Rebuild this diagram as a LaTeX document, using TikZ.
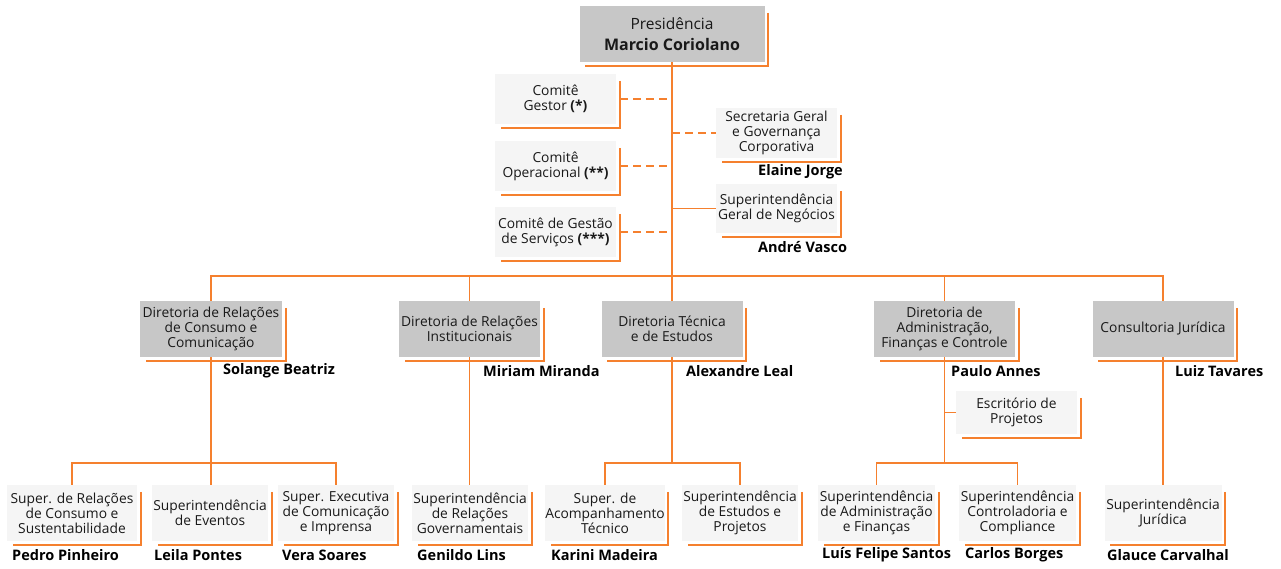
\documentclass[tikz,border=0pt]{standalone}
\usepackage{fontspec}
\setmainfont{Open Sans}
\usepackage{tikz}
\definecolor{fvyqsv}{rgb}{0.96,0.5,0.18}
\definecolor{cwcwcw}{rgb}{0.78,0.78,0.78}
\definecolor{fufufu}{rgb}{0.96,0.96,0.96}
\definecolor{tttttt}{rgb}{0.1,0.1,0.1}

\begin{document}
\begin{tikzpicture}[line cap=butt,line join=miter,x=1pt,y=-1pt,
  dk/.style={fill=cwcwcw,inner sep=0pt,align=center,minimum height=56pt,
    text=tttttt,font=\fontsize{13.8}{15}\selectfont},
  lt/.style={fill=fufufu,inner sep=0pt,align=center,minimum height=56pt,
    text=tttttt,font=\fontsize{13.8}{15}\selectfont},
  nm/.style={anchor=west,inner sep=0pt,font=\fontsize{14.5}{16}\selectfont\bfseries},
  ln/.style={color=fvyqsv,line width=1.6pt},
  dl/.style={color=fvyqsv,line width=1.5pt,dash pattern=on 8pt off 5pt},
  sh/.style={color=fvyqsv,line width=2pt}]
  \useasboundingbox (0,0) rectangle (1281,568);
  % presidencia and staff
  \node[dk,minimum width=185pt,font=\fontsize{15.5}{21}\selectfont] (pres) at (672,34)
  {Presid\^encia\\{\fontsize{16}{21}\selectfont\bfseries Marcio Coriolano}};
  \node[lt,minimum width=121pt,minimum height=50pt] (cg) at (555.5,99) {Comit\^e\\Gestor \textbf{(*)}};
  \node[lt,minimum width=121pt,minimum height=50pt] (co) at (555.5,166) {Comit\^e\\Operacional \textbf{(**)}};
  \node[lt,minimum width=121pt,minimum height=50pt] (cs) at (555.5,232) {Comit\^e de Gest\~ao\\de Servi\c{c}os \textbf{(***)}};
  \node[lt,minimum width=121pt,minimum height=50pt] (sg) at (776.5,133) {Secretaria Geral\\e Governan\c{c}a\\Corporativa};
  \node[lt,minimum width=121pt,minimum height=49pt] (sn) at (776.5,208.5) {Superintend\^encia\\Geral de Neg\'ocios};
  % diretorias
  \node[dk,minimum width=142pt] (d1) at (211,329) {Diretoria de Rela\c{c}\~oes\\de Consumo e\\Comunica\c{c}\~ao};
  \node[dk,minimum width=141pt] (d2) at (469.5,329) {Diretoria de Rela\c{c}\~oes\\Institucionais};
  \node[dk,minimum width=141pt] (d3) at (672,329) {Diretoria T\'ecnica\\e de Estudos};
  \node[dk,minimum width=141pt] (d4) at (944.5,329) {Diretoria de\\Administra\c{c}\~ao,\\Finan\c{c}as e Controle};
  \node[dk,minimum width=141pt] (d5) at (1163,329) {Consultoria Jur\'idica};
  \node[lt,minimum width=121pt,minimum height=43pt] (ep) at (1016.5,412.5) {Escrit\'orio de\\Projetos};
  % superintendencias
  \node[lt,minimum width=130pt] (b1) at (72,513) {Super. de Rela\c{c}\~oes\\de Consumo e\\Sustentabilidade};
  \node[lt,minimum width=116pt] (b2) at (210,513) {Superintend\^encia\\de Eventos};
  \node[lt,minimum width=116pt] (b3) at (336,513) {Super. Executiva\\de Comunica\c{c}\~ao\\e Imprensa};
  \node[lt,minimum width=116pt] (b4) at (470,513) {Superintend\^encia\\de Rela\c{c}\~oes\\Governamentais};
  \node[lt,minimum width=114pt] (b5) at (605,513) {Super. de\\Acompanhamento\\T\'ecnico};
  \node[lt,minimum width=116pt] (b6) at (740,513) {Superintend\^encia\\de Estudos e\\Projetos};
  \node[lt,minimum width=117pt] (b7) at (876.5,513) {Superintend\^encia\\de Administra\c{c}\~ao\\e Finan\c{c}as};
  \node[lt,minimum width=117pt] (b8) at (1017.5,513) {Superintend\^encia\\Controladoria e\\Compliance};
  \node[lt,minimum width=117pt] (b9) at (1163,513) {Superintend\^encia\\Jur\'idica};
  % orange shadow edges
  \foreach \n in {pres,cg,co,cs,sg,sn,d1,d2,d3,d4,d5,ep,b1,b2,b3,b4,b5,b6,b7,b8,b9}
  \draw[sh] ([shift={(3.5,7)}]\n.north east) |- ([shift={(6,4)}]\n.south west);
  % names
  \node[nm] (elaine) at (758,172) {Elaine Jorge};
  \node[nm] (andre) at (758,247) {Andr\'e Vasco};
  \node[nm] (solange) at (223,371) {Solange Beatriz};
  \node[nm] (miriam) at (483,371) {Miriam Miranda};
  \node[nm] (alex) at (686,371) {Alexandre Leal};
  \node[nm] (paulo) at (951,371) {Paulo Annes};
  \node[nm] (luiz) at (1175,371) {Luiz Tavares};
  \node[nm] (pedro) at (12,555) {Pedro Pinheiro};
  \node[nm] (leila) at (154,555) {Leila Pontes};
  \node[nm] (vera) at (282,555) {Vera Soares};
  \node[nm] (genildo) at (417,555) {Genildo Lins};
  \node[nm] (karini) at (551,555) {Karini Madeira};
  \node[nm] (luis) at (822,555) {Lu\'is Felipe Santos};
  \node[nm] (carlos) at (965,555) {Carlos Borges};
  \node[nm] (glauce) at (1107,555) {Glauce Carvalhal};
  % connectors
  \coordinate (mainbus) at (672,276);
  \coordinate (bus) at (672,463);
  \draw[ln] (pres.south) -- (d3.north);
  \draw[ln] (d1.north) |- (mainbus) -| (d5.north);
  \draw[ln] (mainbus -| d2.north) -- (d2.north);
  \draw[ln] (mainbus -| d4.north) -- (d4.north);
  \foreach \n in {cg,co,cs} \draw[dl] ([xshift=4pt]\n.east) -- (\n -| pres.south);
  \draw[dl] (sg -| pres.south) -- (sg.west);
  \draw[ln] (sn -| pres.south) -- (sn.west);
  \draw[ln] (d1.south) -- (d1.south |- b2.north);
  \draw[ln] (b1.north) |- (bus -| b2.north) -| (b3.north);
  \draw[ln] (d2.south) -- (d2.south |- b4.north);
  \draw[ln] (d3.south) -- (bus -| d3.south);
  \draw[ln] (b5.north) |- (bus) -| (b6.north);
  \draw[ln] (d4.south) -- (bus -| d4.south);
  \draw[ln] (ep.west) -- (ep.west -| d4.south);
  \draw[ln] (b7.north) |- (bus -| d4.south) -| (b8.north);
  \draw[ln] (d5.south) -- (d5.south |- b9.north);
\end{tikzpicture}
\end{document}
